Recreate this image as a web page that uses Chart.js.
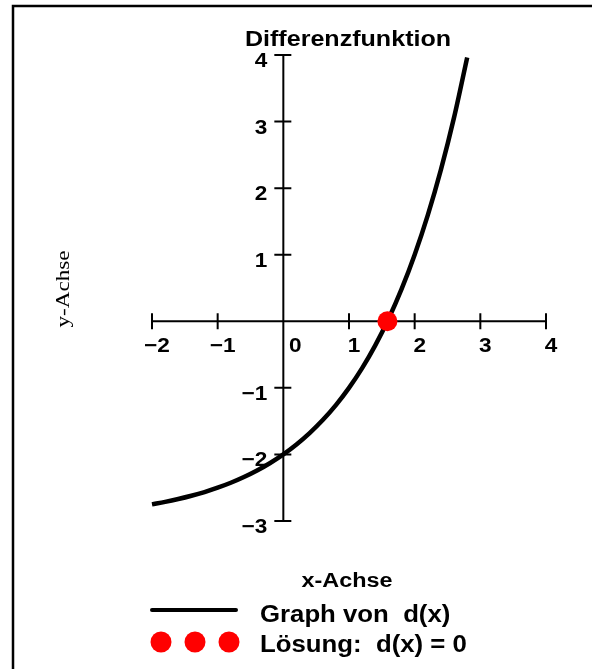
<!DOCTYPE html>
<html lang="de">
<head>
<meta charset="utf-8">
<title>Differenzfunktion</title>
<script src="https://cdn.jsdelivr.net/npm/chart.js@4/dist/chart.umd.min.js"></script>
<style>
    html, body { margin: 0; padding: 0; background: #fff; }
    #chartDiff { display: block; }
</style>
</head>
<body>
<canvas id="chartDiff" width="592" height="669"></canvas>
<script>
// Werte
const xWerte = [-2, -1.8, -1.6, -1.4, -1.2, -1, -0.8, -0.6, -0.4, -0.2, 0, 0.2, 0.4, 0.6, 0.8, 1, 1.2, 1.4, 1.6, 1.8, 2, 2.2, 2.4, 2.6, 2.8];
const yWerte = [-2.75, -2.713, -2.67, -2.621, -2.565, -2.5, -2.426, -2.34, -2.242, -2.129, -2, -1.851, -1.68, -1.484, -1.259, -1, -0.703, -0.361, 0.031, 0.482, 1, 1.595, 2.278, 3.063, 3.964];
const loesungX = [1.585];
const loesungY = [0];
const xTicks = [-2, -1, 0, 1, 2, 3, 4];
const yTicks = [-3, -2, -1, 0, 1, 2, 3, 4];

const titel = 'Differenzfunktion';
const xTitel = 'x-Achse';
const yTitel = 'y-Achse';
const legendeGraph = 'Graph von  d(x)';
const legendeLoesung = 'Lösung:  d(x) = 0';

const ctx = document.getElementById('chartDiff').getContext('2d');

// Text mit horizontaler Streckung zeichnen
const schreiben = (c, text, x, y, font, align, sx) => {
    c.save();
    c.font = font;
    c.fillStyle = '#000';
    c.textBaseline = 'alphabetic';
    c.textAlign = 'left';
    const w = c.measureText(text).width * sx;
    let x0 = x;
    if (align === 'center') x0 = x - w / 2;
    if (align === 'right') x0 = x - w;
    c.translate(x0, y);
    c.scale(sx, 1);
    c.fillText(text, 0, 0);
    c.restore();
};

const zahl = (v) => (v < 0 ? '\u2212' + Math.abs(v) : String(v));

const achsenPlugin = {
    id: 'achsen',
    beforeDatasetsDraw(chart) {
        const c = chart.ctx;
        const sx = chart.scales.x;
        const sy = chart.scales.y;
        const x0 = sx.getPixelForValue(0);
        const y0 = sy.getPixelForValue(0);
        c.save();
        c.strokeStyle = '#000';
        c.lineWidth = 2;
        // x-Achse
        c.beginPath();
        c.moveTo(sx.getPixelForValue(xTicks[0]), y0);
        c.lineTo(sx.getPixelForValue(xTicks[xTicks.length - 1]), y0);
        xTicks.forEach(t => {
            if (t === 0) return;
            const px = sx.getPixelForValue(t);
            c.moveTo(px, y0 - 8);
            c.lineTo(px, y0 + 8);
        });
        // y-Achse
        c.moveTo(x0, sy.getPixelForValue(yTicks[0]));
        c.lineTo(x0, sy.getPixelForValue(yTicks[yTicks.length - 1]));
        yTicks.forEach(t => {
            const py = sy.getPixelForValue(t);
            c.moveTo(x0 - 9, py);
            c.lineTo(x0 + 8, py);
        });
        c.stroke();
        c.restore();

        const f = 'bold 20px "Liberation Sans", Arial, sans-serif';
        xTicks.forEach(t => {
            const px = sx.getPixelForValue(t) + (t === 0 ? 12 : 5);
            schreiben(c, zahl(t), px, y0 + 31, f, 'center', 1.13);
        });
        yTicks.forEach(t => {
            if (t === 0) return;
            const py = sy.getPixelForValue(t);
            schreiben(c, zahl(t), x0 - 16, py + 12, f, 'right', 1.13);
        });
    },
    afterDraw(chart) {
        const c = chart.ctx;
        // Rahmen (nur links und oben sichtbar)
        c.save();
        c.strokeStyle = '#000';
        c.lineWidth = 2.5;
        c.beginPath();
        c.moveTo(13, 669);
        c.lineTo(13, 6);
        c.lineTo(592, 6);
        c.stroke();
        c.restore();

        schreiben(c, titel, 348, 46, 'bold 22px "Liberation Sans", Arial, sans-serif', 'center', 1.14);
        schreiben(c, xTitel, 347, 587, 'bold 20px "Liberation Sans", Arial, sans-serif', 'center', 1.17);

        c.save();
        c.translate(69, 289);
        c.rotate(-Math.PI / 2);
        schreiben(c, yTitel, 0, 0, '19px "Liberation Serif", "Times New Roman", serif', 'center', 1.22);
        c.restore();

        // Legende
        c.save();
        c.strokeStyle = '#000';
        c.lineWidth = 4;
        c.lineCap = 'round';
        c.beginPath();
        c.moveTo(152, 610);
        c.lineTo(236, 610);
        c.stroke();
        c.fillStyle = '#ff0000';
        [161, 195, 229].forEach(px => {
            c.beginPath();
            c.arc(px, 642, 10.5, 0, Math.PI * 2);
            c.fill();
        });
        c.restore();
        const lf = 'bold 23px "Liberation Sans", Arial, sans-serif';
        schreiben(c, legendeGraph, 260, 622, lf, 'left', 1.12);
        schreiben(c, legendeLoesung, 260, 652, lf, 'left', 1.12);
    }
};

const chartDiff = new Chart(ctx, {
    type: 'scatter',
    data: {
        datasets: [{
            label: legendeLoesung,
            data: loesungX.map((x, i) => ({ x: x, y: loesungY[i] })),
            backgroundColor: '#ff0000',
            borderWidth: 0,
            pointRadius: 10,
            pointHoverRadius: 10,
            clip: false
        }, {
            label: legendeGraph,
            data: xWerte.map((x, i) => ({ x: x, y: yWerte[i] })),
            showLine: true,
            borderColor: '#000',
            borderWidth: 4.5,
            pointRadius: 0,
            cubicInterpolationMode: 'monotone',
            clip: false
        }]
    },
    options: {
        responsive: false,
        animation: false,
        events: [],
        layout: {
            padding: { left: 152, right: 46, top: 55, bottom: 148 }
        },
        plugins: {
            legend: { display: false },
            tooltip: { enabled: false },
            title: { display: false }
        },
        scales: {
            x: { type: 'linear', min: -2, max: 4, display: false },
            y: { type: 'linear', min: -3, max: 4, display: false }
        }
    },
    plugins: [achsenPlugin]
});
</script>
</body>
</html>
